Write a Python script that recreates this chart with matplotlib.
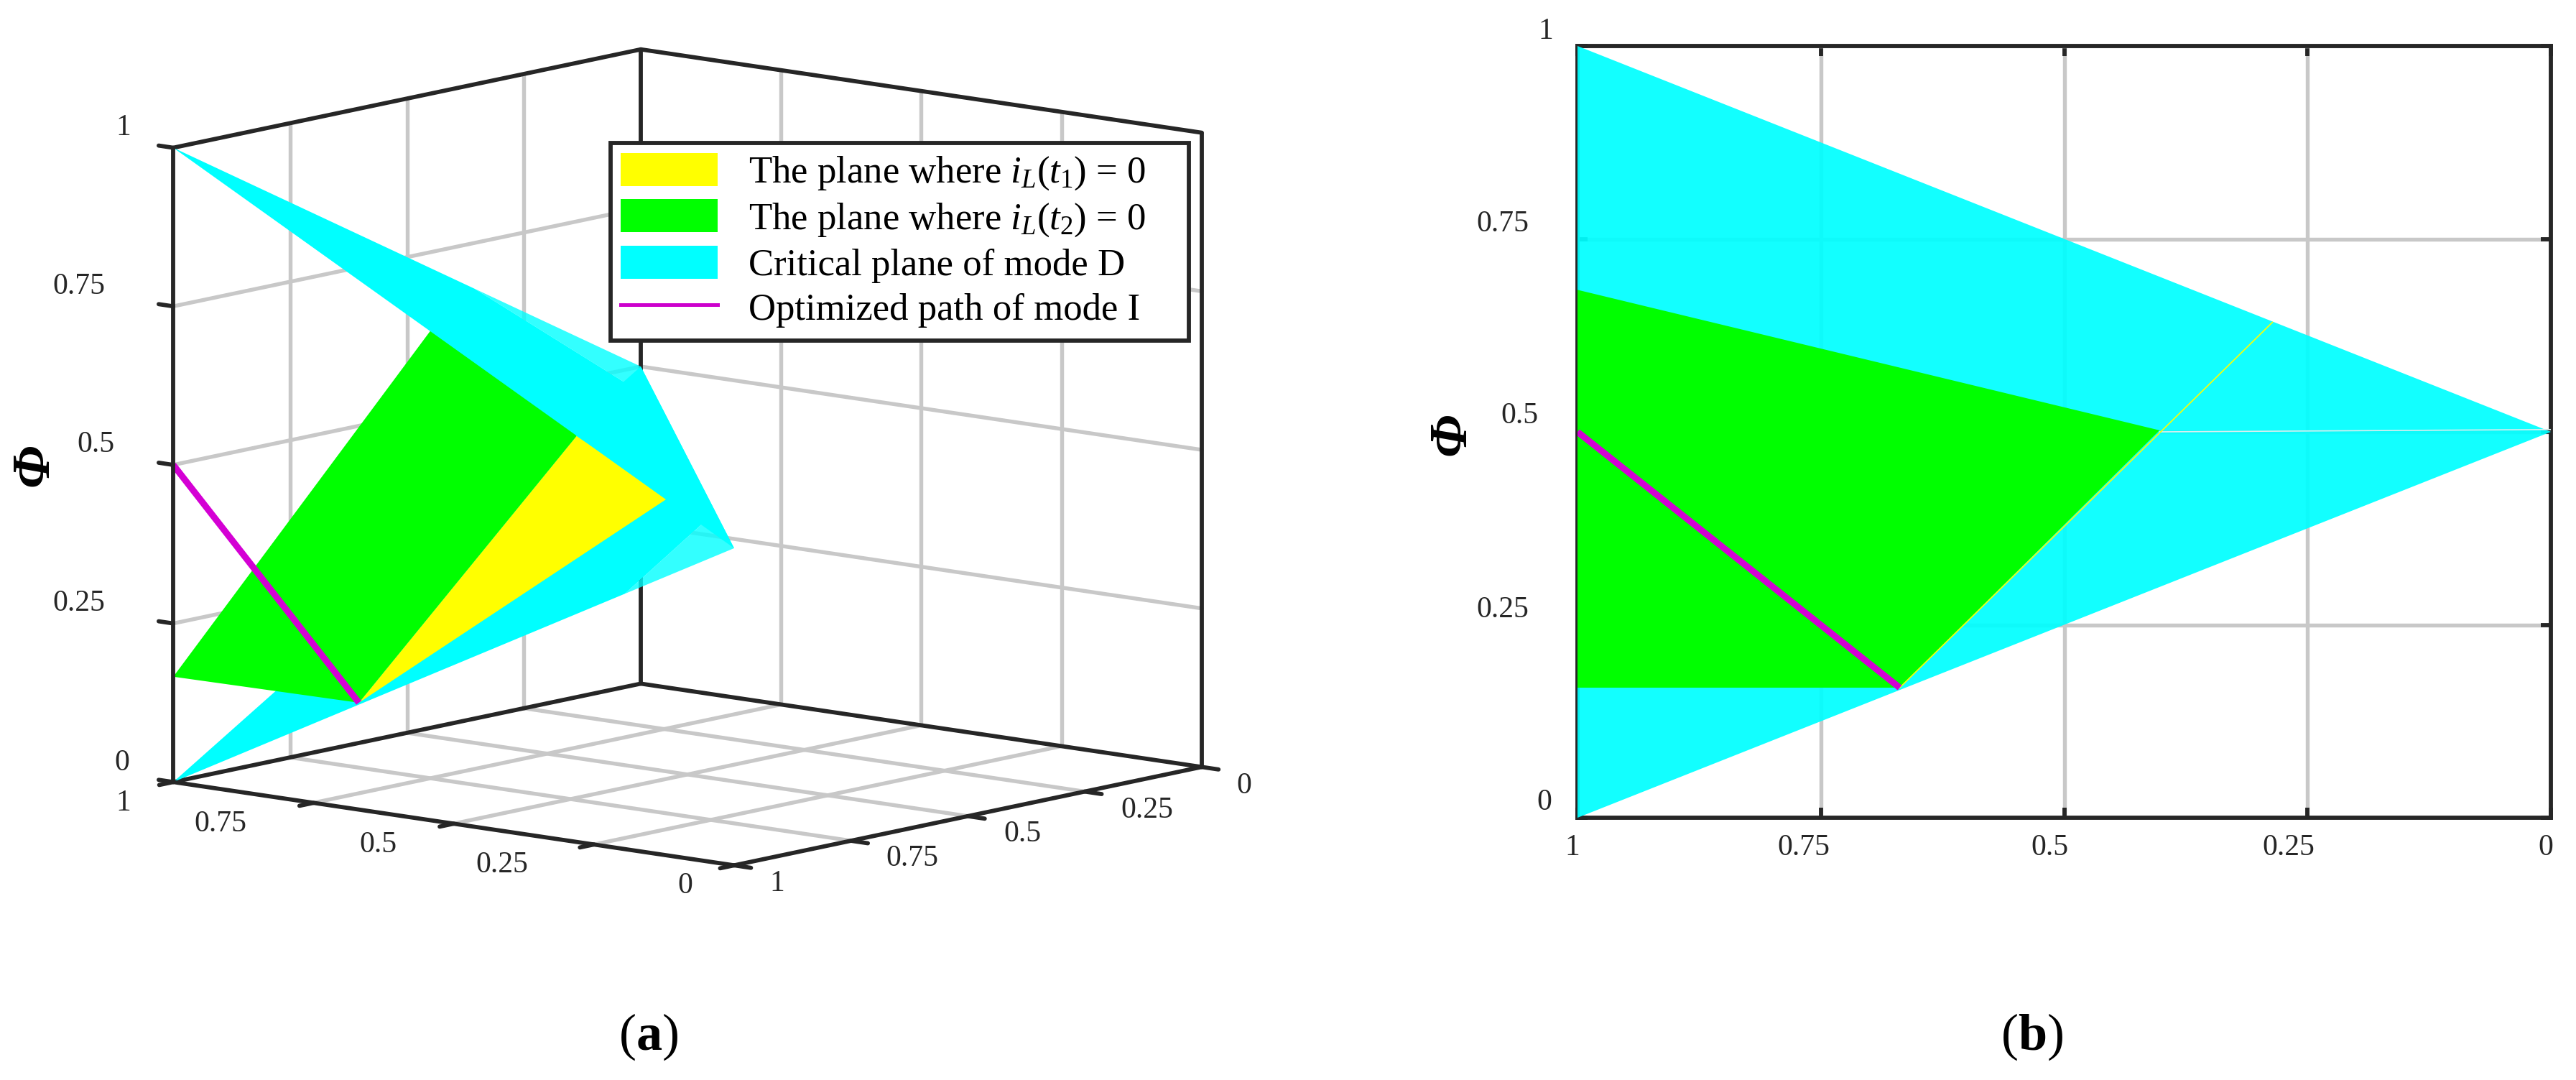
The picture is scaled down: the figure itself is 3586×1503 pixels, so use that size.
import matplotlib

matplotlib.use("Agg")
import matplotlib.pyplot as plt
from matplotlib.lines import Line2D
from matplotlib.patches import Patch, Rectangle
from mpl_toolkits.mplot3d import proj3d
from mpl_toolkits.mplot3d.art3d import Poly3DCollection

plt.rcParams["font.family"] = ["Liberation Serif", "DejaVu Serif"]
plt.rcParams["mathtext.fontset"] = "custom"
plt.rcParams["mathtext.rm"] = "Liberation Serif"
plt.rcParams["mathtext.it"] = "Liberation Serif:italic"
plt.rcParams["mathtext.bf"] = "Liberation Serif:bold"

# axis ticks
ticks = [0, 0.25, 0.5, 0.75, 1]
tick_labels = ["0", "0.25", "0.5", "0.75", "1"]

# panel (a), surfaces in (x, y, phi)
cyan_lower = [(1, 1, 0), (0.195, 1, 0.4025), (0.2, 0.8, 0.5), (1, 0, 0.5)]
cyan_lower_tip = [(0.195, 1, 0.4025), (0, 1, 0.5), (0.2, 0.8, 0.5)]
cyan_upper = [(1, 1, 1), (1, 0.356, 0.678), (0.79, 0.21, 0.5), (0, 1, 0.5)]
cyan_upper_tip = [(1, 0.356, 0.678), (1, 0, 0.5), (0.79, 0.21, 0.5)]
green_3d = [(1, 1, 0.166), (0.669, 1, 0.1685), (0.281, 1, 0.64), (1, 0.382, 0.683)]
yellow_3d = [(0.669, 1, 0.1685), (0.281, 1, 0.64), (0.4235, 0.632, 0.467)]
path_x = [1, 0.669]
path_y = [1, 1]
path_z = [0.5, 0.1685]

# panel (b), same things seen from the side in (x, phi)
cyan_2d = [(1, 1), (0, 0.5), (1, 0)]
green_2d = [(1, 0.684), (0.402, 0.502), (0.669, 0.1685), (1, 0.1685)]
yellow_x = [0.286, 0.669]
yellow_z = [0.642, 0.1685]
seam_x = [0.402, 0]
seam_z = [0.5, 0.503]

legend_labels = [
    "The plane where $i_L(t_1)$ = 0",
    "The plane where $i_L(t_2)$ = 0",
    "Critical plane of mode D",
    "Optimized path of mode I",
]

W, H = 3586, 1503
DARK = "#262626"
GRID = "#c8c8c8"
MAGENTA = "#cc00cc"
PATH = "#d400d4"
LW = 4.2
GRID_LW = 3.9
TICK_SIZE = 30


def line3d(ax, a, b, color=DARK, lw=LW, zorder=2):
    ax.plot(
        [a[0], b[0]], [a[1], b[1]], [a[2], b[2]],
        color=color, lw=lw, zorder=zorder, solid_capstyle="round",
    )


def poly3d(ax, verts, color, zorder, alpha=1.0):
    ax.add_collection3d(
        Poly3DCollection(
            [verts], facecolors=color, edgecolors="none", alpha=alpha, zorder=zorder
        )
    )


def label3d(ax, text, point, offset):
    xp, yp, _ = proj3d.proj_transform(*point, ax.get_proj())
    ax.annotate(
        text, (xp, yp), xytext=offset, textcoords="offset pixels",
        ha="center", va="center", fontsize=TICK_SIZE, color=DARK,
        annotation_clip=False,
    )


fig = plt.figure(figsize=(W / 100, H / 100), dpi=100, facecolor="white")

# ---- panel (a)
side = 1644
ax1 = fig.add_axes(
    [112.8 / W, 22.3 / H, side / W, side / H], projection="3d", computed_zorder=False
)
ax1.set_proj_type("ortho")
ax1.view_init(elev=10.18, azim=130.04)
ax1.set_box_aspect((1.008, 1, 0.8864))
ax1.set_xlim(0, 1, view_margin=0)
ax1.set_ylim(0, 1, view_margin=0)
ax1.set_zlim(0, 1, view_margin=0)
ax1.set_axis_off()
ax1.patch.set_alpha(0)

for t in ticks[1:-1]:
    # wall x=1
    line3d(ax1, (1, t, 0), (1, t, 1), GRID, GRID_LW, 1)
    line3d(ax1, (1, 0, t), (1, 1, t), GRID, GRID_LW, 1)
    # wall y=0
    line3d(ax1, (t, 0, 0), (t, 0, 1), GRID, GRID_LW, 1)
    line3d(ax1, (0, 0, t), (1, 0, t), GRID, GRID_LW, 1)
    # floor
    line3d(ax1, (t, 0, 0), (t, 1, 0), GRID, GRID_LW, 1)
    line3d(ax1, (0, t, 0), (1, t, 0), GRID, GRID_LW, 1)

# box edges behind the surfaces
line3d(ax1, (1, 0, 0), (1, 0, 1))
line3d(ax1, (0, 0, 0), (0, 0, 1))
line3d(ax1, (1, 1, 1), (1, 0, 1))
line3d(ax1, (1, 0, 1), (0, 0, 1))
line3d(ax1, (1, 1, 0), (1, 0, 0))
line3d(ax1, (1, 0, 0), (0, 0, 0))

poly3d(ax1, cyan_lower, "#00ffff", 3)
poly3d(ax1, cyan_lower_tip, "#00ffff", 3, alpha=0.8)
poly3d(ax1, yellow_3d, "#ffff00", 4)
poly3d(ax1, green_3d, "#00ff00", 5)
poly3d(ax1, cyan_upper, "#00ffff", 6)
poly3d(ax1, cyan_upper_tip, "#00ffff", 6, alpha=0.8)
ax1.plot(path_x, path_y, path_z, color=PATH, lw=6.5, zorder=7, solid_capstyle="butt")

# front edges and ticks
line3d(ax1, (1, 1, 0), (1, 1, 1), zorder=8)
line3d(ax1, (1, 1, 0), (0, 1, 0), zorder=8)
line3d(ax1, (0, 1, 0), (0, 0, 0), zorder=8)
for t in ticks:
    line3d(ax1, (1, 1, t), (1.026, 1, t), zorder=8)
    line3d(ax1, (t, 1, 0), (t, 1.03, 0), zorder=8)
    line3d(ax1, (0, t, 0), (-0.03, t, 0), zorder=8)

z_offsets = [(-71, 27), (-131, 28), (-108, 28), (-131, 28), (-69, 28)]
x_offsets = [(-68, -28), (-128, -28), (-105, -29), (-130, -29), (-69, -29)]
y_offsets = [(59, -26), (87, -26), (76, -25), (85, -25), (60, -25)]
for i, (t, s) in enumerate(zip(ticks, tick_labels)):
    label3d(ax1, s, (1, 1, t), z_offsets[i])
    label3d(ax1, s, (t, 1, 0), x_offsets[i])
    label3d(ax1, s, (0, t, 0), y_offsets[i])

# legend frame is separate: the rows need less padding on top than the box has
fig.add_artist(
    Rectangle(
        (850 / W, 1 - 473.5 / H), 805 / W, 275 / H, transform=fig.transFigure,
        facecolor="white", edgecolor=DARK, lw=LW, zorder=4,
    )
)
handles = [
    Patch(facecolor="#ffff00", edgecolor="none"),
    Patch(facecolor="#00ff00", edgecolor="none"),
    Patch(facecolor="#00ffff", edgecolor="none"),
    Line2D([0], [0], color=MAGENTA, lw=3.6),
]
leg = fig.legend(
    handles, legend_labels,
    loc="upper left",
    bbox_to_anchor=(864 / W, 1 - 213 / H),
    borderaxespad=0,
    fontsize=38,
    borderpad=0,
    handlelength=2.56,
    handleheight=0.96,
    handletextpad=0.81,
    labelspacing=0.19,
    frameon=False,
)
leg.set_zorder(5)

# ---- panel (b)
ax2 = fig.add_axes([2196 / W, 1 - 1138 / H, (3551 - 2196) / W, (1138 - 64) / H])
ax2.set_xlim(1, 0)
ax2.set_ylim(0, 1)
ax2.set_xticks(ticks, labels=[])
ax2.set_yticks(ticks, labels=[])
ax2.set_axisbelow(True)
ax2.grid(True, color=GRID, lw=GRID_LW)
ax2.tick_params(direction="in", length=10, width=LW, color=DARK, top=True, right=True)
for spine in ax2.spines.values():
    spine.set_linewidth(LW)
    spine.set_color(DARK)

ax2.fill(*zip(*cyan_2d), color="#00ffff", alpha=0.93, lw=0, zorder=3)
ax2.fill(*zip(*green_2d), color="#00ff00", lw=0, zorder=4)
ax2.plot(seam_x, seam_z, color="#d8eeee", lw=1.2, zorder=4)
ax2.plot(yellow_x, yellow_z, color="#ffff00", lw=1.2, zorder=4.5)
ax2.plot(path_x, path_z, color=PATH, lw=6.5, zorder=5, solid_capstyle="butt")

y2_offsets = [(-46, 21), (-104, 21), (-81, 22), (-104, 21), (-44, 20)]
x2_offsets = [(-7, -42), (-26, -42), (-20, -42), (-24, -42), (-7, -42)]
for i, (t, s) in enumerate(zip(ticks, tick_labels)):
    ax2.annotate(
        s, (1, t), xytext=y2_offsets[i], textcoords="offset pixels",
        ha="center", va="center", fontsize=TICK_SIZE, color=DARK, annotation_clip=False,
    )
    ax2.annotate(
        s, (t, 0), xytext=x2_offsets[i], textcoords="offset pixels",
        ha="center", va="center", fontsize=TICK_SIZE, color=DARK, annotation_clip=False,
    )

# axis names and captions
for x_px, y_px in [(48, 647), (2021, 604)]:
    fig.text(
        x_px / W, 1 - y_px / H, "Φ", rotation=90, ha="center", va="center",
        fontsize=54, fontweight="bold", fontstyle="italic", color="black",
    )
fig.text(903 / W, 1 - 1443 / H, r"($\mathbf{a}$)", ha="center", va="center", fontsize=52)
fig.text(2829 / W, 1 - 1443 / H, r"($\mathbf{b}$)", ha="center", va="center", fontsize=52)

fig.savefig("out.png", dpi=100, facecolor="white")
